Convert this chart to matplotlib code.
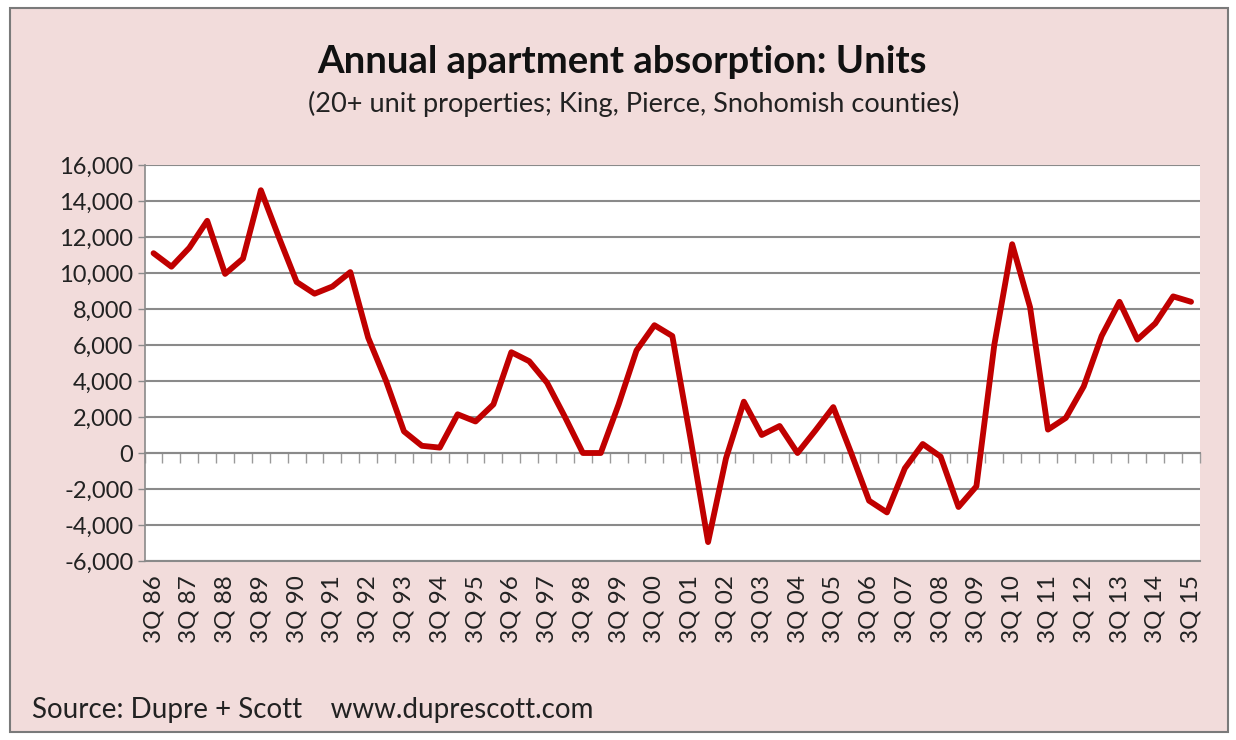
import matplotlib
matplotlib.use("Agg")
import matplotlib.pyplot as plt
import matplotlib.patches as patches
import numpy as np

plt.rcParams["font.family"] = ["Lato", "DejaVu Sans"]

# semi-annual periods, 3Q86 .. 3Q15 (labels on every 3Q)
years = list(range(86, 100)) + list(range(0, 16))
labels = [f"3Q {y:02d}" for y in years]

absorption = [
    11100, 10350, 11400, 12900, 9950, 10800, 14600, 12000, 9500, 8850,
    9250, 10050, 6400, 4000, 1200, 400, 300, 2150, 1750, 2700,
    5600, 5100, 3900, 2000, 0, 0, 2700, 5700, 7100, 6500,
    900, -4950, -300, 2850, 1000, 1500, 0, 1250, 2550, 0,
    -2650, -3300, -850, 500, -200, -3000, -1850, 6000, 11600, 8100,
    1300, 1950, 3700, 6500, 8400, 6300, 7200, 8700, 8400,
]
y_ticks = list(range(-6000, 16001, 2000))

pink = "#f2dcdb"
grid_c = "#8a8a8a"
red = "#c00000"

fig = plt.figure(figsize=(12.36, 7.4), dpi=100)
fig.patch.set_facecolor("white")

# outer chart frame
frame = patches.Rectangle((10 / 1236, 8 / 740), 1218 / 1236, 724 / 740,
                          transform=fig.transFigure, facecolor=pink,
                          edgecolor="#7a7a7a", linewidth=1.5, zorder=-10)
fig.patches.append(frame)

ax = fig.add_axes([144.6 / 1236, 1 - 561 / 740, (1200 - 144.6) / 1236, 396 / 740])
ax.set_zorder(1)
ax.set_facecolor("white")

x = np.arange(len(absorption))
ax.plot(x, absorption, color=red, linewidth=4.2, solid_joinstyle="round",
        solid_capstyle="round", zorder=3)

ax.set_xlim(-0.5, len(absorption) - 0.5)
ax.set_ylim(y_ticks[0], y_ticks[-1])
ax.set_yticks(y_ticks)
ax.set_yticklabels([f"{v:,}" for v in y_ticks], fontsize=17, color="#222222")
ax.yaxis.grid(True, color=grid_c, linewidth=1.5)
ax.set_axisbelow(True)
ax.tick_params(axis="y", length=5, width=1, color=grid_c, pad=3)

# category labels along the bottom, no tick marks
ax.set_xticks(x[::2])
ax.set_xticklabels(labels, rotation=90, fontsize=17.5, color="#222222")
ax.tick_params(axis="x", length=0, pad=10)

for side in ["top", "right"]:
    ax.spines[side].set_visible(False)
ax.spines["bottom"].set_color(grid_c)
ax.spines["bottom"].set_linewidth(1.5)
ax.spines["left"].set_color(grid_c)
ax.spines["left"].set_linewidth(1.2)

# horizontal category axis crossing at zero with small tick marks
zero_pos = (0 - y_ticks[0]) / (y_ticks[-1] - y_ticks[0])
sec = ax.secondary_xaxis(zero_pos)
sec.set_xticks(np.arange(-0.5, len(absorption), 1.0))
sec.set_xticklabels([])
sec.tick_params(axis="x", direction="out", length=7, width=1, color="#9a9a9a")
sec.spines["bottom"].set_color(grid_c)
sec.spines["bottom"].set_linewidth(1.5)

fig.text(622 / 1236, 1 - 62 / 740, "Annual apartment absorption: Units", ha="center",
         va="center", fontsize=27.5, fontweight="bold", color="#111111")
fig.text(634 / 1236, 1 - 104 / 740,
         "(20+ unit properties; King, Pierce, Snohomish counties)",
         ha="center", va="center", fontsize=19.5, color="#222222")
fig.text(32 / 1236, 1 - 710 / 740, "Source: Dupre + Scott    www.duprescott.com",
         ha="left", va="center", fontsize=20, color="#222222")

fig.savefig("out.png", dpi=100, facecolor=fig.get_facecolor())
